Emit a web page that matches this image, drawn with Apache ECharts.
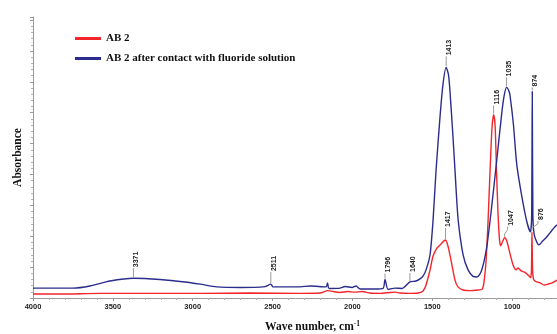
<!DOCTYPE html>
<html>
<head>
<meta charset="utf-8">
<script src="https://cdn.jsdelivr.net/npm/echarts@6/dist/echarts.min.js"></script>
<style>
  html, body { margin: 0; padding: 0; background: #fff; }
  #chart { width: 557px; height: 334px; }
</style>
</head>
<body>
<div id="chart"></div>
<script>
// FTIR spectra: wavenumber (cm-1) and absorbance (arbitrary units)
const seriesNames = ['AB 2', 'AB 2 after contact with fluoride solution'];

const redWave = [4000, 3831, 3580, 3267, 2954, 2641, 2328, 2203, 2153, 2121, 2078, 2028, 1984, 1940, 1890, 1827, 1764, 1733, 1702, 1640, 1590, 1558, 1539, 1514, 1495, 1470, 1445, 1427, 1417, 1408, 1396, 1377, 1358, 1339, 1307, 1263, 1213, 1188, 1176, 1163, 1151, 1138, 1126, 1116, 1107, 1098, 1088, 1079, 1072, 1063, 1047, 1032, 1013, 994, 975, 963, 944, 919, 894, 884, 879, 876, 872, 866, 857, 825, 800, 775, 750, 719];
const redAbs  = [0.13, 0.13, 0.15, 0.15, 0.15, 0.16, 0.15, 0.16, 0.24, 0.21, 0.18, 0.21, 0.19, 0.21, 0.16, 0.15, 0.18, 0.19, 0.16, 0.15, 0.16, 0.23, 0.42, 0.91, 1.36, 1.62, 1.75, 1.85, 1.88, 1.79, 1.56, 1.07, 0.58, 0.36, 0.26, 0.24, 0.26, 0.28, 0.52, 1.23, 2.47, 4.16, 5.52, 5.94, 5.62, 4.16, 2.69, 1.88, 1.69, 1.79, 1.95, 1.82, 1.43, 1.07, 0.91, 0.97, 0.88, 0.83, 0.71, 0.66, 0.9, 2.14, 0.9, 0.6, 0.55, 0.49, 0.42, 0.45, 0.49, 0.58];

const blueWave = [4000, 3831, 3750, 3643, 3518, 3371, 3205, 3048, 2954, 2848, 2704, 2547, 2511, 2497, 2328, 2265, 2165, 2156, 2146, 2078, 2046, 2002, 1977, 1952, 1858, 1808, 1796, 1777, 1733, 1689, 1640, 1602, 1577, 1558, 1539, 1514, 1495, 1477, 1452, 1433, 1413, 1399, 1390, 1370, 1357, 1338, 1307, 1276, 1245, 1220, 1192, 1160, 1129, 1098, 1066, 1050, 1035, 1020, 1013, 992, 971, 940, 908, 886, 878, 874, 870, 862, 844, 832, 813, 788, 763, 738, 719];
const blueAbs  = [0.32, 0.32, 0.32, 0.39, 0.55, 0.64, 0.6, 0.52, 0.45, 0.36, 0.34, 0.37, 0.45, 0.36, 0.36, 0.39, 0.36, 0.49, 0.31, 0.32, 0.37, 0.34, 0.39, 0.29, 0.29, 0.31, 0.6, 0.28, 0.32, 0.31, 0.52, 0.55, 0.62, 0.71, 0.91, 1.4, 2.53, 4.09, 5.84, 6.92, 7.47, 7.24, 6.75, 5.19, 4.06, 2.53, 1.4, 0.91, 0.7, 0.68, 0.88, 1.62, 2.92, 4.38, 5.94, 6.55, 6.82, 6.7, 6.55, 5.62, 4.32, 3.31, 2.47, 2.14, 2.6, 6.69, 2.6, 2.05, 1.79, 1.72, 1.82, 1.95, 2.11, 2.27, 2.37];

// Annotated peaks: which spectrum (0 = red, 1 = blue) and wavenumber
const peakSeries = [1, 1, 1, 1, 1, 1, 1, 0, 0, 0, 0];
const peakWave   = [3371, 2511, 1796, 1640, 1413, 1035, 874, 1417, 1116, 1047, 876];
// leader line: horizontal shift of its top end and its length (px)
const peakShift  = [0, 0, 0, 0, 0, 0, 0, 0, 0, 3, 6];
const peakLead   = [10, 12, 6, 9, 11, 10, 4, 12, 9, 11, 11];

const xTicks = { min: 500, max: 4000, interval: 500 };

const RED = '#f2262b';
const BLUE = '#2b2d8c';

function zip(a, b) { return a.map((v, i) => [v, b[i]]); }
const waves = [redWave, blueWave];
const absvs = [redAbs, blueAbs];
const peakData = peakWave.map((w, i) => {
  const s = peakSeries[i];
  const idx = waves[s].indexOf(w);
  return [w, absvs[s][idx], peakShift[i], peakLead[i], String(w)];
});

const chart = echarts.init(document.getElementById('chart'), null, { renderer: 'canvas' });

chart.setOption({
  animation: false,
  backgroundColor: '#fff',
  // the plot runs on past the right edge of the canvas (to 500 cm-1)
  grid: { left: 33, top: 17, bottom: 36, width: 559, outerBoundsMode: 'none', containLabel: false },
  legend: {
    data: seriesNames,
    orient: 'vertical',
    left: 70,
    top: 28,
    itemWidth: 26,
    itemHeight: 3,
    itemGap: 9,
    icon: 'rect',
    textStyle: { fontFamily: 'Liberation Serif', fontWeight: 'bold', fontSize: 11, color: '#111' }
  },
  xAxis: {
    type: 'value',
    inverse: true,
    min: xTicks.min,
    max: xTicks.max,
    interval: xTicks.interval,
    name: '{a|Wave number, cm}{s|-1}',
    nameLocation: 'middle',
    nameGap: 22,
    nameTextStyle: {
      rich: {
        a: { fontFamily: 'Liberation Serif', fontWeight: 'bold', fontSize: 11.5, color: '#111' },
        s: { fontFamily: 'Liberation Serif', fontWeight: 'bold', fontSize: 7.5, color: '#111', verticalAlign: 'top', padding: [0, 0, 6, 0] }
      }
    },
    splitLine: { show: false },
    axisLine: { show: true, lineStyle: { color: '#9a9a9a', width: 1 } },
    axisTick: { show: true, length: 3, lineStyle: { color: '#9a9a9a' } },
    minorTick: { show: true, splitNumber: 5, length: 2, lineStyle: { color: '#b0b0b0' } },
    axisLabel: {
      margin: 5, fontFamily: 'Liberation Sans', fontWeight: 'bold', fontSize: 7.5, color: '#222',
      formatter: function (v) { return String(v); }
    }
  },
  yAxis: {
    type: 'value',
    min: 0,
    max: 9.1,
    interval: 1,
    name: 'Absorbance',
    nameLocation: 'middle',
    nameGap: 9,
    nameTextStyle: { fontFamily: 'Liberation Serif', fontWeight: 'bold', fontSize: 11.5, color: '#111' },
    splitLine: { show: false },
    axisLine: { show: true, lineStyle: { color: '#9a9a9a', width: 1 } },
    axisTick: { show: true, length: 3, lineStyle: { color: '#9a9a9a' } },
    minorTick: { show: true, splitNumber: 5, length: 2, lineStyle: { color: '#b0b0b0' } },
    axisLabel: { show: false }
  },
  series: [
    {
      name: seriesNames[0],
      type: 'line',
      data: zip(redWave, redAbs),
      showSymbol: false,
      smooth: 0.25,
      color: RED,
      lineStyle: { color: RED, width: 1.4 },
      z: 2
    },
    {
      name: seriesNames[1],
      type: 'line',
      data: zip(blueWave, blueAbs),
      showSymbol: false,
      smooth: 0.25,
      color: BLUE,
      lineStyle: { color: BLUE, width: 1.4 },
      z: 3
    },
    {
      type: 'custom',
      data: peakData,
      clip: false,
      silent: true,
      z: 4,
      encode: { x: 0, y: 1 },
      renderItem: function (params, api) {
        const p = api.coord([api.value(0), api.value(1)]);
        const dx = api.value(2), len = api.value(3);
        const x = p[0], y = p[1];
        const x1 = x + dx, y1 = y - len;
        const pts = dx === 0
          ? [[x, y - 1], [x, y1]]
          : [[x, y - 1], [x, y - len * 0.35], [x1, y - len * 0.75], [x1, y1]];
        return {
          type: 'group',
          children: [
            { type: 'polyline', shape: { points: pts }, style: { stroke: '#9a9a9a', lineWidth: 1, fill: null } },
            {
              type: 'text',
              x: x1 + 3,
              y: y1 - 1,
              rotation: Math.PI / 2,
              style: {
                text: peakData[params.dataIndex][4],
                fontFamily: 'Liberation Sans',
                fontWeight: 'bold',
                fontSize: 7,
                fill: '#222',
                align: 'left',
                verticalAlign: 'middle'
              }
            }
          ]
        };
      }
    }
  ]
});
</script>
</body>
</html>
